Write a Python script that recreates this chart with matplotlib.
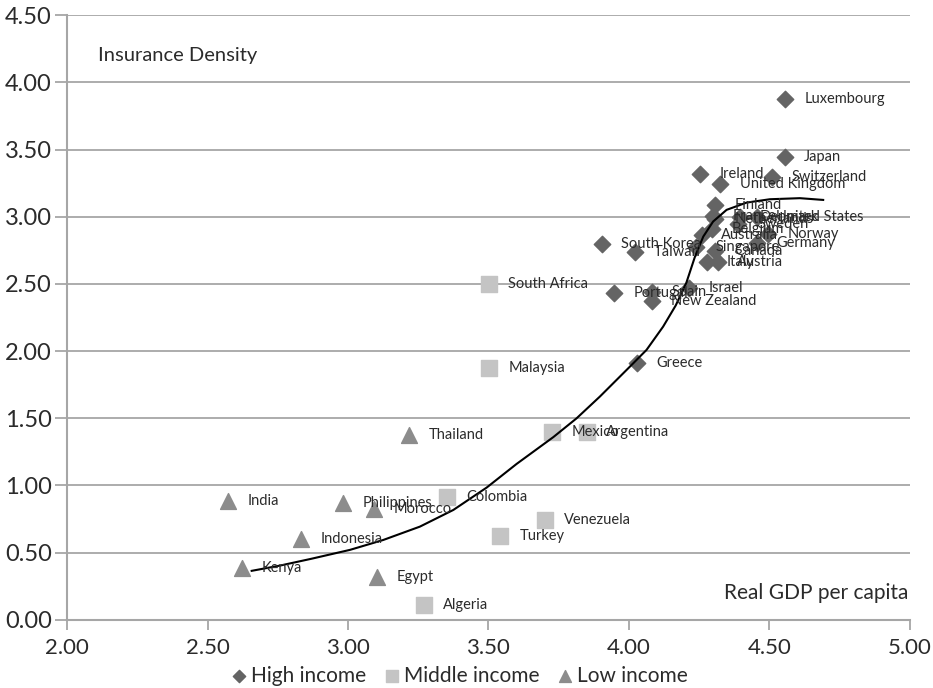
import matplotlib
matplotlib.use("Agg")
from matplotlib import pyplot as plt

plt.rcParams['font.family'] = ['Lato', 'DejaVu Sans']

# High income countries (log real GDP per capita, log insurance density)
high_names = ["Luxembourg", "Japan", "Ireland", "Switzerland", "United Kingdom",
              "Finland", "France", "Netherlands", "Denmark", "United States",
              "Sweden", "Belgium", "Australia", "Norway", "Germany", "Singapore",
              "Canada", "Italy", "Austria", "South Korea", "Taiwan", "Portugal",
              "Spain", "New Zealand", "Israel", "Greece"]
high_x = [4.555, 4.555, 4.255, 4.51, 4.325, 4.306, 4.299, 4.306, 4.395, 4.455,
          4.388, 4.295, 4.26, 4.495, 4.455, 4.24, 4.306, 4.278, 4.317, 3.904,
          4.021, 3.947, 4.082, 4.082, 4.214, 4.028]
high_y = [3.877, 3.445, 3.318, 3.296, 3.244, 3.088, 3.006, 2.984, 3.0, 3.0,
          2.946, 2.91, 2.865, 2.87, 2.805, 2.775, 2.745, 2.664, 2.664, 2.798,
          2.738, 2.433, 2.44, 2.373, 2.47, 1.912]

# Middle income countries
mid_names = ["South Africa", "Malaysia", "Mexico", "Argentina", "Colombia",
             "Venezuela", "Turkey", "Algeria"]
mid_x = [3.502, 3.502, 3.726, 3.851, 3.352, 3.701, 3.541, 3.27]
mid_y = [2.5, 1.875, 1.399, 1.399, 0.915, 0.744, 0.625, 0.112]

# Low income countries
low_names = ["Thailand", "India", "Philippines", "Morocco", "Indonesia",
             "Kenya", "Egypt"]
low_x = [3.217, 2.573, 2.982, 3.093, 2.833, 2.623, 3.103]
low_y = [1.376, 0.885, 0.87, 0.826, 0.603, 0.387, 0.32]

# Trend curve
trend_x = [2.657, 2.76, 2.87, 3.007, 3.126, 3.256, 3.375, 3.494, 3.60, 3.731,
           3.814, 3.897, 4.004, 4.063, 4.122, 4.167, 4.205, 4.235, 4.265, 4.30,
           4.348, 4.419, 4.502, 4.609, 4.692]
trend_y = [0.365, 0.405, 0.455, 0.521, 0.595, 0.694, 0.818, 0.985, 1.16, 1.36,
           1.50, 1.662, 1.885, 2.009, 2.182, 2.34, 2.51, 2.70, 2.852, 2.964,
           3.051, 3.105, 3.130, 3.138, 3.125]

x_ticks = [2.0, 2.5, 3.0, 3.5, 4.0, 4.5, 5.0]
y_ticks = [0.0, 0.5, 1.0, 1.5, 2.0, 2.5, 3.0, 3.5, 4.0, 4.5]

grid_col = "#a6a6a6"
text_col = "#2b2b2b"

fig = plt.figure(figsize=(9.33, 6.88), dpi=100)
ax = fig.add_axes([0.072, 0.099, 0.903, 0.879])

# Grid and axes styling
ax.set_xlim(2.0, 5.0)
ax.set_ylim(0.0, 4.5)
ax.set_xticks(x_ticks)
ax.set_yticks(y_ticks)
ax.set_xticklabels([f"{v:.2f}" for v in x_ticks], fontsize=16, color=text_col)
ax.set_yticklabels([f"{v:.2f}" for v in y_ticks], fontsize=17, color=text_col)
ax.yaxis.grid(True, color=grid_col, linewidth=1.3)
ax.set_axisbelow(True)
for side in ["top", "right"]:
    ax.spines[side].set_visible(False)
for side in ["left", "bottom"]:
    ax.spines[side].set_color(grid_col)
    ax.spines[side].set_linewidth(1.5)
ax.tick_params(axis="x", direction="out", length=7, color=grid_col, width=1.3, pad=6)
ax.tick_params(axis="y", direction="out", length=9, color=grid_col, width=1.3, pad=2)

# Plot data
ax.scatter(high_x, high_y, marker="D", s=70, color="#646464", label="High income", zorder=3)
ax.scatter(mid_x, mid_y, marker="s", s=130, color="#c4c4c4", label="Middle income", zorder=3)
ax.scatter(low_x, low_y, marker="^", s=130, color="#8c8c8c", label="Low income", zorder=3)
ax.plot(trend_x, trend_y, color="black", linewidth=1.5, zorder=4,
        solid_joinstyle="round")

# Country labels
for names, xs, ys in [(high_names, high_x, high_y),
                      (mid_names, mid_x, mid_y),
                      (low_names, low_x, low_y)]:
    for name, x, y in zip(names, xs, ys):
        ax.annotate(name, (x, y), xytext=(14, 0), textcoords="offset points",
                    ha="left", va="center", fontsize=10.5, color=text_col, zorder=5)

ax.text(0.037, 0.934, "Insurance Density", transform=ax.transAxes,
        fontsize=14.5, color=text_col, ha="left", va="center")
ax.text(0.998, 0.045, "Real GDP per capita", transform=ax.transAxes,
        fontsize=15, color=text_col, ha="right", va="center")

fig.legend(loc="center", bbox_to_anchor=(0.49, 0.018), ncol=3, frameon=False,
           fontsize=15, handletextpad=0.0, columnspacing=0.6, handlelength=1.2,
           markerscale=0.75, labelcolor=text_col)

plt.savefig("out.png", dpi=100)
